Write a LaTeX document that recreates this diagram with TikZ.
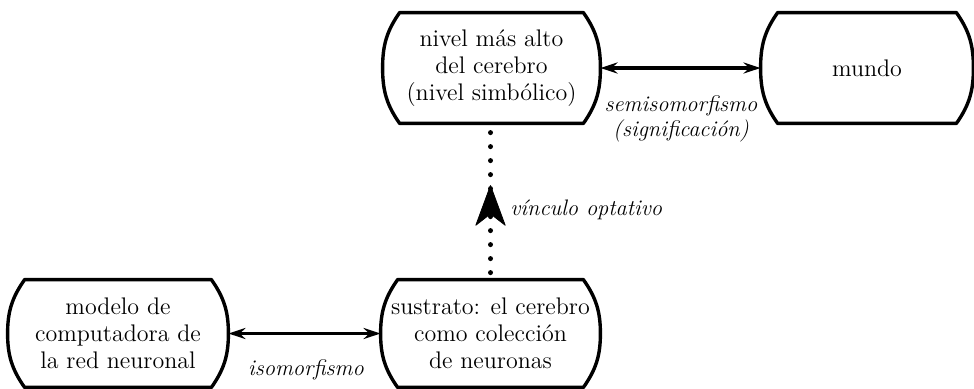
\documentclass[tikz,border=0pt]{standalone}
\usepackage{fontspec}
\usetikzlibrary{arrows.meta,calc,decorations.markings}
\newcommand\barrelbox[1]{%
  \draw[boxline] ($(#1.north west)+(17,0)$) -- ($(#1.north east)+(-17,0)$)
    to[out=-55,in=90] (#1.east) to[out=-90,in=55] ($(#1.south east)+(-17,0)$)
    -- ($(#1.south west)+(17,0)$) to[out=125,in=-90] (#1.west)
    to[out=90,in=-125] ($(#1.north west)+(17,0)$) -- cycle;}
\begin{document}
\begin{tikzpicture}[x=0.5pt,y=0.5pt,
  box/.style={rectangle, inner sep=0pt, align=center, font=\fontsize{12}{13.5}\selectfont},
  boxline/.style={line width=1.7pt, line join=round},
  link/.style={line width=1.8pt, {Stealth[length=8.5pt,width=5.5pt]}-{Stealth[length=8.5pt,width=5.5pt]}},
  lab/.style={font=\fontsize{11.2}{12.5}\selectfont\itshape, align=center, inner sep=0pt},
  dotline/.style={line width=2.5pt, line cap=round, dash pattern=on 0pt off 7pt, shorten <=3.5pt, shorten >=3.5pt}
]
\fill[white] (0,0) rectangle (974,-388);
\useasboundingbox (0,0) rectangle (974,-388);

\node[box, minimum width=108.5pt, minimum height=55pt] (A) at (491.5,-68) {nivel más alto\\del cerebro\\(nivel simbólico)};
\node[box, minimum width=106pt, minimum height=55pt] (B) at (867,-68) {mundo};
\node[box, minimum width=109.5pt, minimum height=53.5pt] (C) at (490.5,-333.5) {sustrato: el cerebro\\como colección\\de neuronas};
\node[box, minimum width=110pt, minimum height=53.5pt] (D) at (118,-333.5) {modelo de\\computadora de\\la red neuronal};

\barrelbox{A}
\barrelbox{B}
\barrelbox{C}
\barrelbox{D}

\draw[link] (A.east) -- (B.west);
\draw[link] (D.east) -- (C.west);

\coordinate (Atop) at (C.north |- A.south);
\draw[dotline] (C.north) -- (Atop);
\path[decorate, decoration={markings, mark=at position 0.605 with {\arrow{Stealth[length=21pt,width=15.5pt,inset=6pt,round]}}}] (C.north) -- (Atop);

\node[lab] (l1) at (681,-119) {semisomorfismo\\(significación)};
\node[lab, anchor=west] (l2) at (510,-210) {vínculo optativo};
\node[lab] (l3) at (306,-370) {isomorfismo};
\end{tikzpicture}
\end{document}
